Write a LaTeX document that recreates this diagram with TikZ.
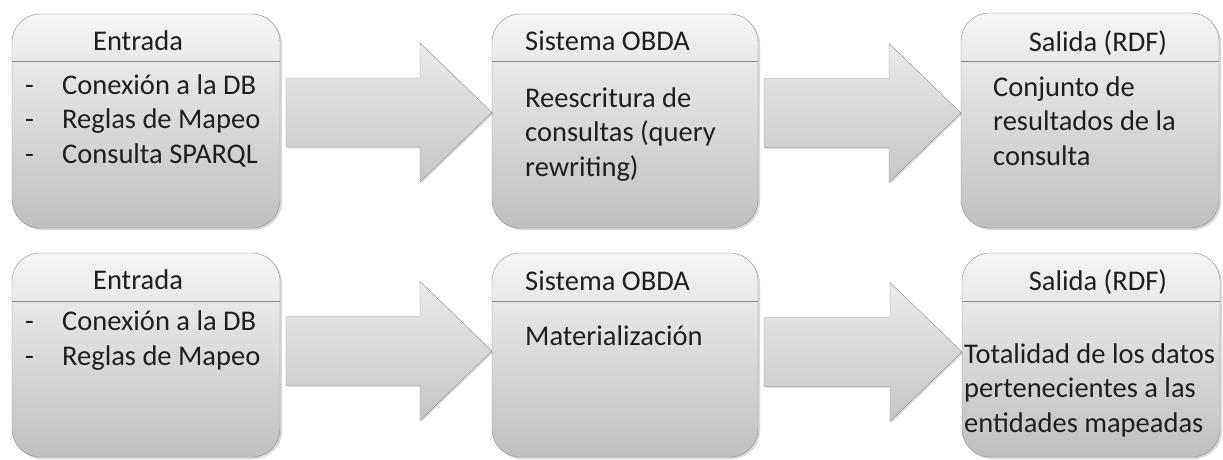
\documentclass[tikz,border=0pt]{standalone}
\usepackage{fontspec}
\setmainfont{Carlito}
\usetikzlibrary{calc,positioning,shadows}
\tikzset{
	panel/.style  = {draw=black!45, rounded corners=28pt, top color=gray!8, bottom color=gray!50,
		drop shadow={shadow xshift=2pt, shadow yshift=-2pt, opacity=0.3},
		inner sep=0pt, outer sep=0pt},
	flow/.style   = {draw=black!45, top color=gray!16, bottom color=gray!45,
		drop shadow={shadow xshift=1.5pt, shadow yshift=-1.5pt, opacity=0.25}},
	head/.style   = {inner sep=0pt, text=black!88, font=\fontsize{28.5}{34.5}\selectfont},
	body/.style   = {head, anchor=base west, align=left}
}

\begin{document}
\begin{tikzpicture}[x=1pt, y=-1pt]
		\useasboundingbox (0,0) rectangle (1223,459);
		
		% first row: query rewriting
		\node[panel, minimum width=268pt, minimum height=214pt] (in1) at (146,121) {};
		\node[panel, minimum width=266pt, minimum height=214pt] (sys1) at (625,121) {};
		\node[panel, minimum width=258pt, minimum height=215pt] (out1) at (1090,120.5) {};
		% second row: materialization
		\node[panel, minimum width=268pt, minimum height=204pt] (in2) at (146,355) {};
		\node[panel, minimum width=266pt, minimum height=204pt] (sys2) at (625,355) {};
		\node[panel, minimum width=258pt, minimum height=204pt] (out2) at (1091,355) {};
		
		% header separators
		\foreach \pnl/\y in {in1/61, sys1/61, out1/61, in2/301, sys2/301, out2/301}
		\draw[black!45] (\pnl.west |- 0,\y) -- (\pnl.east |- 0,\y);
		
		% block arrows between the panels
		\foreach \from/\to/\yc in {in1/sys1/112.5, sys1/out1/113, in2/sys2/351, sys2/out2/352}{
			\coordinate (s) at (\from.east |- 0,\yc);
			\coordinate (t) at (\to.west |- 0,\yc);
			\draw[flow] ($(s)+(6,-34.5)$) -- ($(t)+(-72,-34.5)$) -- ($(t)+(-72,-69.5)$) -- (t)
			-- ($(t)+(-72,69.5)$) -- ($(t)+(-72,34.5)$) -- ($(s)+(6,34.5)$) -- cycle;
		}
		
		% titles
		\node[head, anchor=base] (hin1) at (138,50) {Entrada};
		\node[head, anchor=base west] (hsys1) at (525,50) {Sistema OBDA};
		\node[head, anchor=base] (hout1) at (1098,51) {Salida (RDF)};
		\node[head, anchor=base] (hin2) at (138,289) {Entrada};
		\node[head, anchor=base west] (hsys2) at (525,290) {Sistema OBDA};
		\node[head, anchor=base] (hout2) at (1098,290) {Salida (RDF)};
		
		% contents (base = last line)
		\node[body] (bin1) at (25,163) {\makebox[37pt][l]{-}Conexión a la DB\\
			\makebox[37pt][l]{-}Reglas de Mapeo\\
			\makebox[37pt][l]{-}Consulta SPARQL};
		\node[body] (bsys1) at (525,176) {Reescritura de\\consultas (query\\rewriting)};
		\node[body] (bout1) at (993,165) {Conjunto de\\resultados de la\\consulta};
		\node[body] (bin2) at (25,365) {\makebox[37pt][l]{-}Conexión a la DB\\
			\makebox[37pt][l]{-}Reglas de Mapeo};
		\node[body] (bsys2) at (525,345) {Materialización};
		\node[body] (bout2) at (964,432) {Totalidad de los datos\\pertenecientes a las\\entidades mapeadas};
	\end{tikzpicture}
\end{document}
